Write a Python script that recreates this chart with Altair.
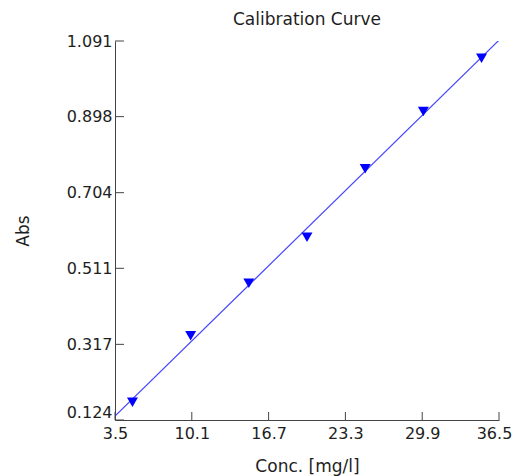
import altair as alt
import pandas as pd

conc = [5, 10, 15, 20, 25, 30, 35]
absorb = [0.169, 0.339, 0.473, 0.590, 0.765, 0.911, 1.047]

x_ticks = [3.5, 10.1, 16.7, 23.3, 29.9, 36.5]
y_ticks = [0.124, 0.317, 0.511, 0.704, 0.898, 1.091]

W, H = 384, 379
FONT = "DejaVu Sans"
TXT = "#1e1e1e"
AX = "#444444"

df = pd.DataFrame({"conc": conc, "abs": absorb})
xt = pd.DataFrame({"v": x_ticks})
yt = pd.DataFrame({"v": y_ticks})

xs = alt.Scale(domain=[x_ticks[0], x_ticks[-1]], nice=False, zero=False)
ys = alt.Scale(domain=[y_ticks[0], y_ticks[-1]], nice=False, zero=False)

xaxis = alt.Axis(
    values=x_ticks, format=".1f", grid=False, ticks=False, labelFlush=False,
    labelOverlap=False, domainColor=AX, labelPadding=5, labelFontSize=16,
    labelFont=FONT, labelColor=TXT, title="Conc. [mg/l]", titleFont=FONT,
    titleFontSize=17, titleFontWeight="normal", titleColor=TXT, titlePadding=17,
    labelOffset={"condition": {"test": "datum.value >= 36", "value": -5}, "value": 0},
)
yaxis = alt.Axis(
    values=y_ticks, format=".3f", grid=False, ticks=False, labelFlush=False,
    labelOverlap=False, domainColor=AX, labelPadding=3, labelFontSize=16,
    labelFont=FONT, labelColor=TXT, title="Abs", titleFont=FONT,
    titleFontSize=17, titleFontWeight="normal", titleColor=TXT, titlePadding=34,
    labelBaseline={"condition": {"test": "datum.value <= 0.125", "value": "bottom"}, "value": "middle"},
)

base = alt.Chart(df)

line = base.transform_regression("conc", "abs", extent=[x_ticks[0], x_ticks[-1]]).mark_line(
    color="#4545ff", strokeWidth=1.2, clip=True
).encode(
    x=alt.X("conc:Q", scale=xs, axis=xaxis),
    y=alt.Y("abs:Q", scale=ys, axis=yaxis),
)

pts = base.mark_point(shape="triangle-down", filled=True, size=120, color="#0000ff", opacity=1).encode(
    x=alt.X("conc:Q", scale=xs),
    y=alt.Y("abs:Q", scale=ys),
)

ytick = alt.Chart(yt).mark_rule(color=AX, strokeWidth=1).encode(
    y=alt.Y("v:Q", scale=ys), x=alt.value(0), x2=alt.value(9)
)
xtick = alt.Chart(xt).mark_rule(color=AX, strokeWidth=1).encode(
    x=alt.X("v:Q", scale=xs), y=alt.value(H), y2=alt.value(H - 8)
)

chart = alt.layer(line, pts, ytick, xtick).properties(
    width=W, height=H,
    title=alt.TitleParams("Calibration Curve", font=FONT, fontSize=17, fontWeight="normal",
                          color=TXT, offset=4, anchor="middle"),
    autosize=alt.AutoSizeParams(type="none"),
    padding={"left": 107, "top": 33, "right": 13, "bottom": 56},
).configure_view(stroke=None)

chart.save("out.html", embed_options={"renderer": "svg", "actions": False})
